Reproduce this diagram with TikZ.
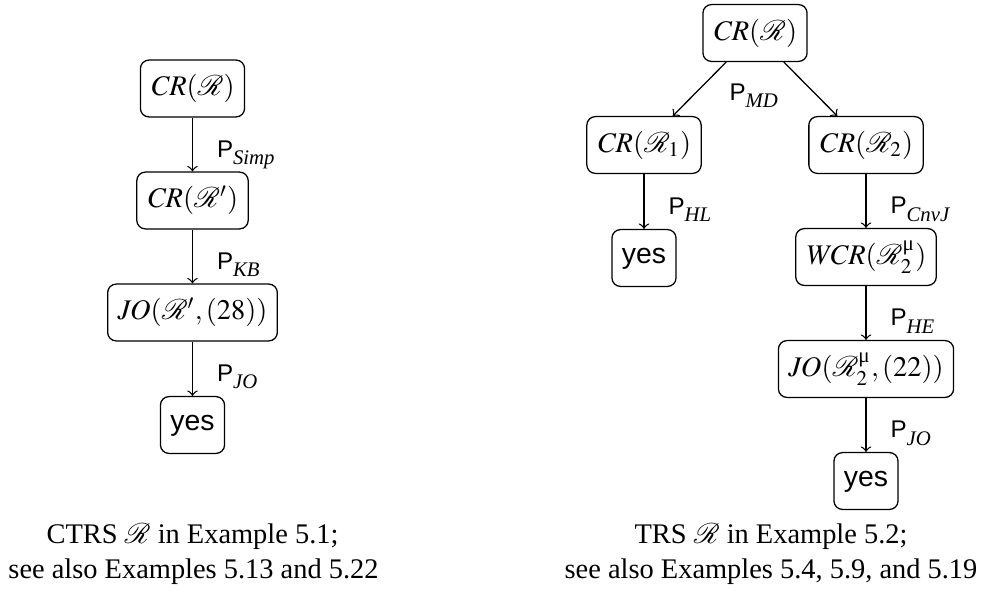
\documentclass[tikz,border=0pt]{standalone}
\usepackage{mathptmx}
\usepackage{mathrsfs}
\usepackage{amsmath}
\usepackage{fontspec}
\setmainfont{Liberation Serif}
\setsansfont{Liberation Sans}
\newcommand{\plab}[1]{{\fontsize{8.5}{10}\selectfont\sffamily P}\raisebox{-2.6pt}{\fontsize{7.3}{8}\selectfont\itshape #1}}
\newcommand{\mumark}{\text{μ}}
\tikzset{
  box/.style={draw, rounded corners=3pt, minimum height=20pt, inner xsep=3.5pt, inner ysep=0pt, line width=0.45pt},
  yesbox/.style={box, text height=5.8pt, text depth=2.2pt},
  conn/.style={->, line width=0.45pt},
  lab/.style={anchor=base west, inner sep=0pt, xshift=8.4pt, yshift=-4.5pt},
  captext/.style={anchor=base, inner sep=0pt}
}
\begin{document}
\begin{tikzpicture}[x=0.352pt, y=-0.352pt]
\useasboundingbox (0,0) rectangle (991,593);
% left tree
\node[box] (L1) at (192.5,88.5) {$\mathit{CR}(\mathscr{R})$};
\node[box] (L2) at (192.5,200.5) {$\mathit{CR}(\mathscr{R}')$};
\node[box] (L3) at (192.5,312.5) {$\mathit{JO}(\mathscr{R}',(28))$};
\node[yesbox] (L4) at (192.5,425) {\sffamily yes};
\draw[conn] (L1) -- node[lab] (lS) {\plab{Simp}} (L2);
\draw[conn] (L2) -- node[lab] (lK) {\plab{KB}} (L3);
\draw[conn] (L3) -- node[lab] (lJ) {\plab{JO}} (L4);
\node[captext] (c1) at (192.5,543) {CTRS $\mathscr{R}$ in Example 5.1;};
\node[captext] (c2) at (193.5,578) {see also Examples 5.13 and 5.22};
% right tree
\node[box] (R0) at (755,33) {$\mathit{CR}(\mathscr{R})$};
\node[box] (R1) at (644,145) {$\mathit{CR}(\mathscr{R}_1)$};
\node[box] (R2) at (866,145) {$\mathit{CR}(\mathscr{R}_2)$};
\node[yesbox] (R1y) at (644,258) {\sffamily yes};
\node[box] (R3) at (866,257) {$\mathit{WCR}(\mathscr{R}_2^{\mumark})$};
\node[box] (R4) at (866,369) {$\mathit{JO}(\mathscr{R}_2^{\mumark},(22))$};
\node[yesbox] (R5) at (866,481) {\sffamily yes};
\draw[conn] (R0) -- (R1);
\draw[conn] (R0) -- (R2);
\node[anchor=base west, inner sep=0pt] (lMD) at (729,100) {\plab{MD}};
\draw[conn] (R1) -- node[lab] (lH) {\plab{HL}} (R1y);
\draw[conn] (R2) -- node[lab] (lC) {\plab{CnvJ}} (R3);
\draw[conn] (R3) -- node[lab] (lE) {\plab{HE}} (R4);
\draw[conn] (R4) -- node[lab] (lJ2) {\plab{JO}} (R5);
\node[captext] (c3) at (771,543) {TRS $\mathscr{R}$ in Example 5.2;};
\node[captext] (c4) at (771,578) {see also Examples 5.4, 5.9, and 5.19};
\end{tikzpicture}
\end{document}
